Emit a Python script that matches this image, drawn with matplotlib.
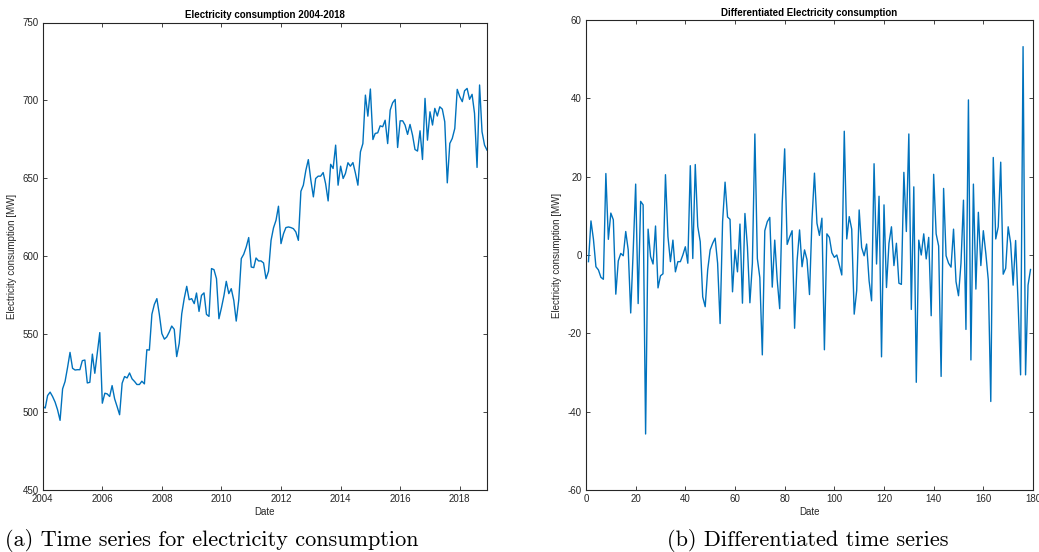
import numpy as np
import pandas as pd
import matplotlib
matplotlib.use("Agg")
import matplotlib.pyplot as plt
import matplotlib.dates as mdates

# ---------------- data ----------------
start_month = "2004-01-01"
consumption = [
    503.6, 502.6, 510.6, 512.8, 510.0, 506.4, 501.5, 494.7, 514.9, 519.6,
    528.7, 538.3, 528.1, 527.0, 527.2, 527.2, 533.0, 533.4, 518.7, 519.1,
    537.2, 524.9, 538.0, 551.0, 505.7, 512.1, 511.7, 510.0, 517.0, 508.5,
    503.6, 498.3, 518.5, 522.8, 521.9, 525.1, 521.3, 519.6, 517.7, 517.7,
    519.8, 518.1, 540.0, 539.8, 562.8, 569.1, 572.8, 562.8, 550.4, 546.8,
    548.2, 551.4, 555.2, 553.1, 535.6, 544.1, 563.1, 572.8, 580.7, 572.1,
    572.8, 569.6, 576.4, 564.6, 574.9, 576.5, 562.7, 561.4, 592.1, 591.4,
    585.6, 559.9, 567.0, 574.9, 583.9, 576.0, 579.2, 571.7, 558.4, 572.0,
    598.5, 601.3, 606.0, 612.0, 593.1, 592.7, 598.9, 597.0, 597.0, 595.7,
    585.6, 590.4, 610.2, 618.2, 623.1, 632.1, 608.1, 614.5, 618.4, 618.8,
    618.4, 617.7, 615.6, 610.2, 641.7, 645.6, 655.2, 662.0, 648.8, 638.1,
    649.9, 651.4, 651.4, 653.7, 646.6, 635.5, 659.0, 656.3, 671.3, 645.6,
    657.8, 649.9, 653.1, 660.0, 657.8, 660.1, 653.5, 645.6, 667.0, 672.3,
    703.4, 689.9, 707.3, 674.9, 678.8, 679.2, 683.7, 683.1, 687.3, 672.3,
    693.8, 698.5, 700.6, 669.8, 686.9, 686.9, 684.2, 678.2, 684.6, 677.7,
    668.5, 667.5, 680.5, 662.1, 701.3, 674.5, 692.7, 684.2, 694.9, 690.0,
    695.9, 694.4, 686.3, 647.1, 672.4, 675.6, 682.0, 707.1, 702.4, 699.2,
    706.2, 707.7, 700.7, 703.9, 691.7, 657.0, 709.9, 679.9, 671.3, 668.1,
]

diff_values = [
    -1.7, 8.7, 4.0, -3.0, -3.8, -5.7, -6.2, 20.8, 4.0, 10.7,
    9.0, -10.0, -1.5, 0.4, -0.2, 6.0, 1.3, -14.8, 1.0, 18.1,
    -12.4, 13.7, 12.8, -45.7, 6.6, -0.4, -2.3, 7.4, -8.4, -5.3,
    -4.8, 20.5, 4.7, -1.7, 3.8, -4.3, -1.7, -1.7, 0.0, 2.1,
    -2.1, 22.8, -0.9, 23.1, 7.3, 3.4, -10.7, -13.2, -3.8, 1.3,
    3.0, 4.3, -2.1, -17.5, 8.5, 18.6, 9.7, 9.1, -9.4, 1.3,
    -4.3, 7.9, -12.3, 10.6, 2.1, -12.2, -2.1, 30.9, -0.9, -5.8,
    -25.5, 6.2, 8.5, 9.6, -8.2, 3.8, -6.4, -13.7, 13.1, 27.1,
    2.7, 4.6, 6.2, -18.7, -1.5, 6.4, -3.0, 1.3, -1.2, -10.1,
    9.0, 20.9, 8.1, 5.0, 9.4, -24.2, 5.4, 4.5, 0.6, -0.6,
    0.0, -2.6, -5.1, 31.6, 4.1, 9.8, 6.6, -15.1, -9.1, 11.5,
    1.9, -0.2, 2.8, -6.6, -11.7, 23.3, -2.3, 15.0, -26.0, 12.8,
    -8.3, 3.0, 7.2, -2.7, 3.0, -7.2, -7.5, 21.1, 6.0, 30.9,
    -13.9, 17.4, -32.5, 3.8, 0.0, 5.4, -1.0, 4.5, -15.5, 20.6,
    5.4, 2.3, -31.0, 17.0, -0.2, -2.1, -3.1, 6.6, -6.8, -10.4,
    -2.1, 14.0, -19.0, 39.6, -26.8, 18.1, -8.7, 10.9, -2.7, 6.2,
    0.4, -6.4, -37.4, 24.9, 4.1, 7.2, 23.7, -4.9, -3.4, 7.2,
    3.0, -7.7, 3.7, -12.3, -30.6, 53.2, -30.6, -7.7, -3.7,
]

left_title = "Electricity consumption 2004-2018"
right_title = "Differentiated Electricity consumption"
ylabel_text = "Electricity consumption [MW]"
xlabel_text = "Date"
caption_a = "(a) Time series for electricity consumption"
caption_b = "(b) Differentiated time series"
left_yticks = [450, 500, 550, 600, 650, 700, 750]
right_yticks = [-60, -40, -20, 0, 20, 40, 60]
right_xticks = [0, 20, 40, 60, 80, 100, 120, 140, 160, 180]

# ---------------- style ----------------
line_color = "#0072BD"
axis_color = "#262626"
plt.rcParams["font.family"] = ["Liberation Sans", "DejaVu Sans"]
plt.rcParams["axes.unicode_minus"] = False

fig = plt.figure(figsize=(10.39, 5.52), dpi=100)
W, H = 1039, 552


def frac_axes(x0, y0, x1, y1):
    return fig.add_axes([x0 / W, 1 - y1 / H, (x1 - x0) / W, (y1 - y0) / H])


def style(ax):
    for s in ax.spines.values():
        s.set_color(axis_color)
        s.set_linewidth(0.8)
    ax.tick_params(direction="in", length=3, width=0.6, colors=axis_color,
                   labelsize=7, top=True, right=True, pad=3)


# left panel
dates = pd.date_range(start_month, periods=len(consumption), freq="MS")
ax1 = frac_axes(42.7, 22.5, 487, 490)
ax1.plot(dates, consumption, color=line_color, lw=1.0)
ax1.set_xlim(dates[0], dates[-1])
ax1.set_ylim(left_yticks[0], left_yticks[-1])
ax1.set_yticks(left_yticks)
ax1.xaxis.set_major_locator(mdates.YearLocator(2))
ax1.xaxis.set_major_formatter(mdates.DateFormatter("%Y"))
style(ax1)
ax1.set_title(left_title, fontsize=7, fontweight="bold", pad=3, color="black")
ax1.set_xlabel(xlabel_text, fontsize=7, color=axis_color, labelpad=2)
ax1.set_ylabel(ylabel_text, fontsize=7, color=axis_color, labelpad=4)

# right panel
idx = np.arange(1, len(diff_values) + 1)
ax2 = frac_axes(586, 20, 1033, 490)
ax2.plot(idx, diff_values, color=line_color, lw=1.0)
ax2.set_xlim(right_xticks[0], right_xticks[-1])
ax2.set_ylim(right_yticks[0], right_yticks[-1])
ax2.set_xticks(right_xticks)
ax2.set_yticks(right_yticks)
style(ax2)
ax2.set_title(right_title, fontsize=7, fontweight="bold", pad=3, color="black")
ax2.set_xlabel(xlabel_text, fontsize=7, color=axis_color, labelpad=2)
ax2.set_ylabel(ylabel_text, fontsize=7, color=axis_color, labelpad=4)

# captions
cap_font = ["cmr10", "DejaVu Serif"]
fig.text(5 / W, 1 - 540 / H, caption_a, family=cap_font, fontsize=16,
         ha="left", va="center")
fig.text(808 / W, 1 - 540 / H, caption_b, family=cap_font, fontsize=16,
         ha="center", va="center")

fig.savefig("out.png", dpi=100)
